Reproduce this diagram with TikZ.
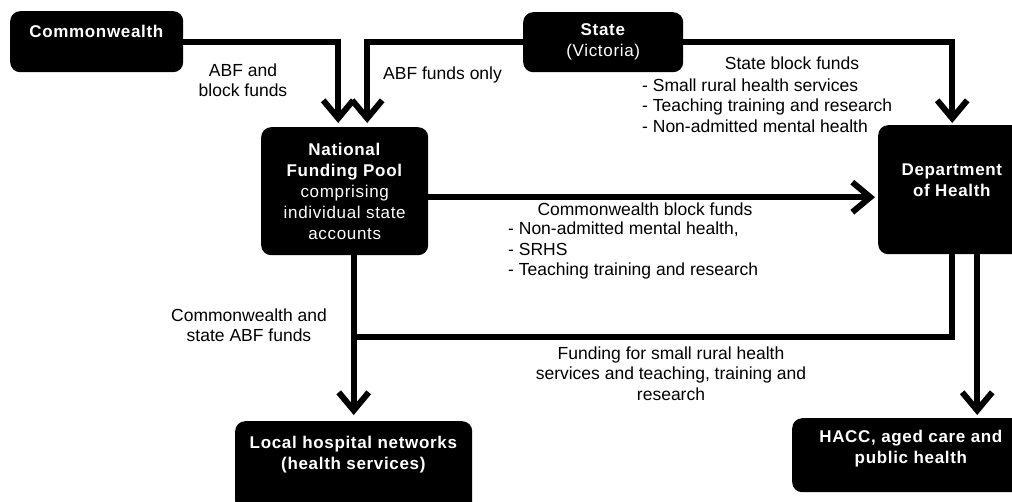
\documentclass[tikz,border=0pt]{standalone}
\usepackage{fontspec}
\setmainfont{Liberation Sans}
\newfontfamily\boxfont[LetterSpace=4]{Liberation Sans}
\usepackage{tikz}
\usetikzlibrary{arrows.meta,positioning}
\tikzset{%
  funding box/.style={%
    fill=black,
    text=white,
    rounded corners=10pt,
    align=center,
    inner sep=0pt,
    anchor=north west,
    font=\boxfont\fontsize{17}{21}\selectfont
  }
}
\tikzset{%
  funding flow/.style={%
    line width=6pt,
    -{Straight Barb[length=18pt,width=30pt]}
  }
}
\tikzset{%
  funding line/.style={%
    line width=6pt
  }
}
\tikzset{%
  funding label/.style={%
    align=center,
    inner sep=0pt,
    font=\fontsize{17.5}{20.5}\selectfont
  }
}

\begin{document}
\begin{tikzpicture}[x=1pt,y=-1pt]
  \useasboundingbox (0,0) rectangle (1012,501);
  \node [funding box, minimum width=173pt, minimum height=61pt, text depth=21pt] (cw) at (10,11) {\textbf{Commonwealth}};
  \node [funding box, minimum width=160pt, minimum height=60pt] (vic) at (523,12) {\textbf{State}\\(Victoria)};
  \node [funding box, minimum width=167pt, minimum height=128pt] (pool) at (261,127) {\textbf{National}\\\textbf{Funding Pool}\\comprising\\individual state\\accounts};
  \node [funding box, minimum width=148pt, minimum height=129pt, text depth=20pt] (doh) at (878,125) {\textbf{Department}\\\textbf{of Health}};
  \node [funding box, minimum width=237pt, minimum height=90pt, text depth=27pt] (lhn) at (235,421) {\textbf{Local hospital networks}\\\textbf{(health services)}};
  \node [funding box, minimum width=238pt, minimum height=74pt, text depth=17pt] (hacc) at (792,418) {\textbf{HACC, aged care and}\\\textbf{public health}};
  \coordinate (merge) at (353.5,337);

  \draw [funding flow, shorten >=4pt] (cw.east) -| ([xshift=-6.5pt]pool.north);
  \draw [funding flow, shorten >=4pt] (vic.west) -| ([xshift=22.5pt]pool.north);
  \draw [funding flow, shorten >=2pt] (vic.east) -| (doh.north);
  \draw [funding flow, shorten >=3pt] ([yshift=-6pt]pool.east) -- ([yshift=-7.5pt]doh.west);
  \draw [funding flow, shorten >=6pt] (pool.south -| lhn.north) -- (lhn.north);
  \draw [funding line] (doh.south) |- (merge);
  \draw [funding flow, shorten >=3pt] ([xshift=25pt]doh.south) -- ([xshift=25pt]doh.south |- hacc.north);

  \node [funding label] (abfblock) at (243,80) {ABF and\\block funds};
  \node [funding label, anchor=base west] (abfonly) at (383,79.5) {ABF funds only};
  \node [funding label, anchor=base] (statehead) at (792,69.3) {State block funds};
  \node [funding label, align=left, anchor=west] (statelist) at (642,105.4) {- Small rural health services\\- Teaching training and research\\- Non-admitted mental health};
  \node [funding label, anchor=base] (cwhead) at (645,215.5) {Commonwealth block funds};
  \node [funding label, align=left, anchor=west] (cwlist) at (508,250.5) {- Non-admitted mental health,\\- SRHS\\- Teaching training and research};
  \node [funding label] (abfboth) at (249,325) {Commonwealth and\\state ABF funds};
  \node [funding label] (rural) at (671,373.4) {Funding for small rural health\\services and teaching, training and\\research};
\end{tikzpicture}
\end{document}
